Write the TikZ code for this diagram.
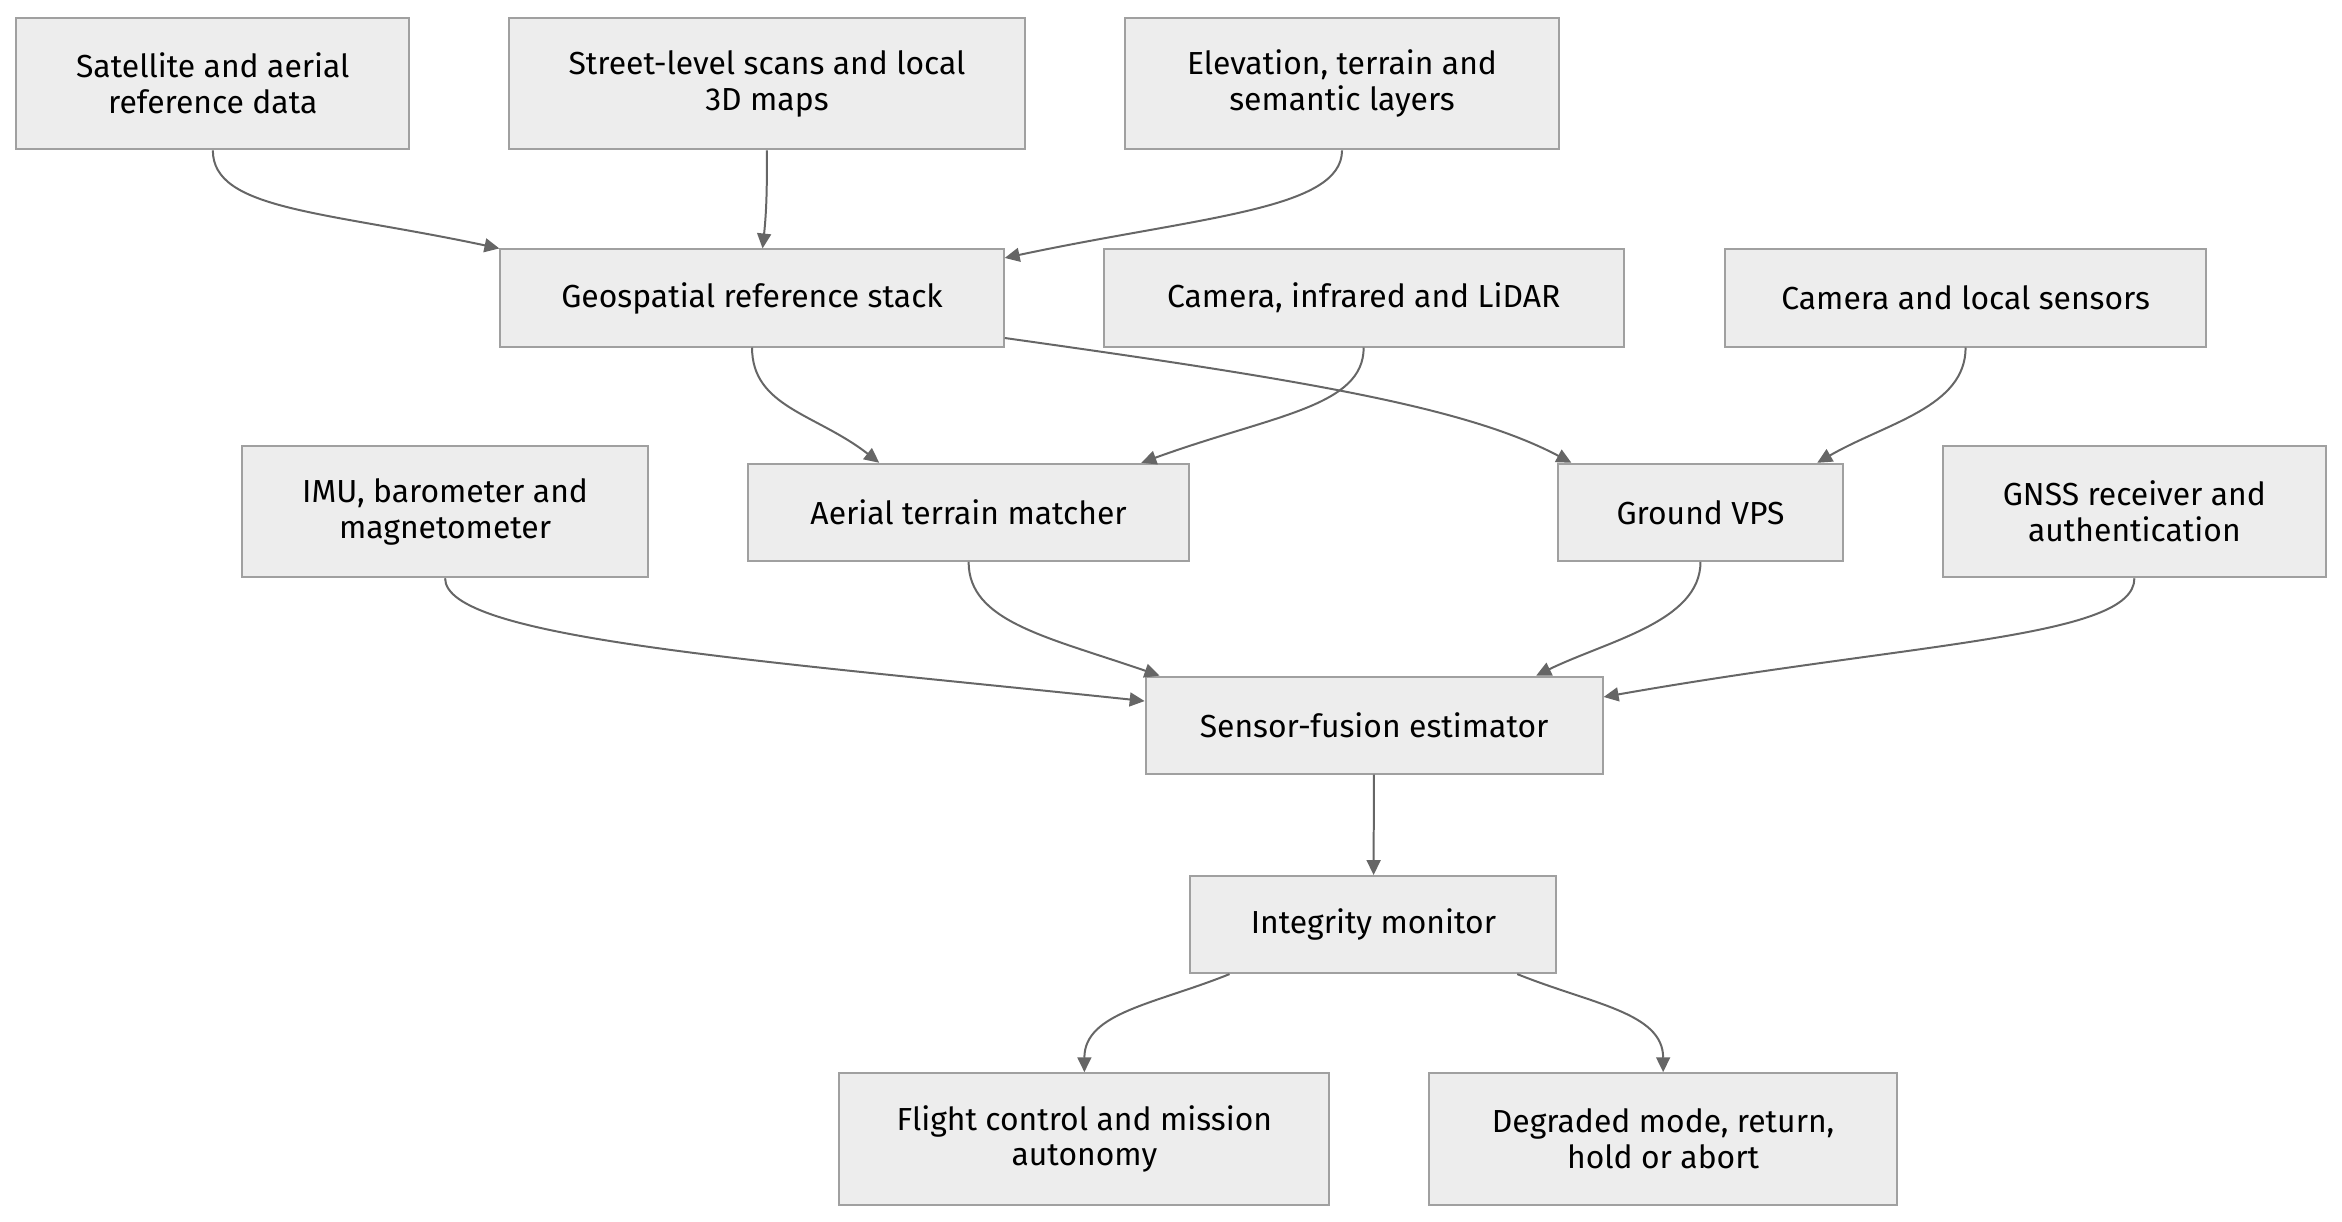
\documentclass[tikz,border=0pt]{standalone}
\usepackage{fontspec}
\setmainfont{Fira Sans}
\usetikzlibrary{shapes,arrows.meta}
\definecolor{boxfill}{HTML}{EDEDED}
\definecolor{boxline}{HTML}{A0A0A0}
\definecolor{edge}{HTML}{666666}
\tikzstyle{box}=[rectangle,draw=boxline,fill=boxfill,line width=1pt,align=center,inner sep=0pt,font=\fontsize{16}{18}\selectfont]
\tikzstyle{one}=[box,minimum height=48.75pt]
\tikzstyle{two}=[box,minimum height=66pt]
\tikzstyle{p}=[-{Triangle[length=7.5pt,width=7pt]},draw=edge,line width=1pt]

\begin{document}
\begin{tikzpicture}[x=0.75pt,y=0.75pt]
    \useasboundingbox (0,0) rectangle (1568,-818);
    % reference data
    \node[two,minimum width=197.25pt] (1) at (142.5,-56) {Satellite and aerial\\reference data};
    \node[two,minimum width=258.75pt] (2) at (513.5,-56) {Street-level scans and local\\3D maps};
    \node[two,minimum width=218.25pt] (3) at (898.5,-56) {Elevation, terrain and\\semantic layers};
    \node[one,minimum width=252.75pt] (4) at (503.5,-199.5) {Geospatial reference stack};
    \node[one,minimum width=261pt] (5) at (913,-199.5) {Camera, infrared and LiDAR};
    \node[one,minimum width=241.5pt] (6) at (1316,-199.5) {Camera and local sensors};
    % matchers and sensors
    \node[two,minimum width=204pt] (7) at (298,-342.5) {IMU, barometer and\\magnetometer};
    \node[one,minimum width=221.25pt] (8) at (648.5,-343) {Aerial terrain matcher};
    \node[one,minimum width=143.25pt] (9) at (1138.5,-343) {Ground VPS};
    \node[two,minimum width=192pt] (10) at (1429,-342.5) {GNSS receiver and\\authentication};
    % fusion and outputs
    \node[one,minimum width=229.5pt] (11) at (920,-485.5) {Sensor-fusion estimator};
    \node[one,minimum width=183.75pt] (12) at (919.5,-619) {Integrity monitor};
    \node[two,minimum width=246pt] (13) at (726,-762.5) {Flight control and mission\\autonomy};
    \node[two,minimum width=234.75pt] (14) at (1113.5,-762.5) {Degraded mode, return,\\hold or abort};

    \draw[p] (1.south) to[out=-90,in=168,out distance=30pt,in distance=90pt] (4.north west);
    \draw[p] (2.south) to[out=-90,in=84] (4.78);
    \draw[p] (3.south) to[out=-90,in=12,out distance=30pt,in distance=100pt] (4.9);
    \draw[p] (4.south) to[out=-90,in=142,out distance=30pt,in distance=40pt] (8.151);
    \draw[p] (5.south) to[out=-90,in=20,out distance=30pt,in distance=70pt] (8.16);
    \draw[p] (4.-9) to[out=-8,in=152,out distance=150pt,in distance=60pt] (9.159);
    \draw[p] (6.south) to[out=-90,in=30,out distance=30pt,in distance=40pt] (9.23);
    \draw[p] (7.south) to[out=-90,in=174,out distance=30pt,in distance=200pt] (11.174);
    \draw[p] (8.south) to[out=-90,in=161,out distance=30pt,in distance=60pt] (11.167);
    \draw[p] (9.south) to[out=-90,in=26,out distance=30pt,in distance=40pt] (11.17);
    \draw[p] (10.south) to[out=-90,in=10,out distance=30pt,in distance=160pt] (11.7);
    \draw[p] (11) -- (12);
    \draw[p] (12.199) to[out=-158,in=90,out distance=40pt,in distance=30pt] (13.north);
    \draw[p] (12.341) to[out=-22,in=90,out distance=40pt,in distance=30pt] (14.north);
\end{tikzpicture}
\end{document}
